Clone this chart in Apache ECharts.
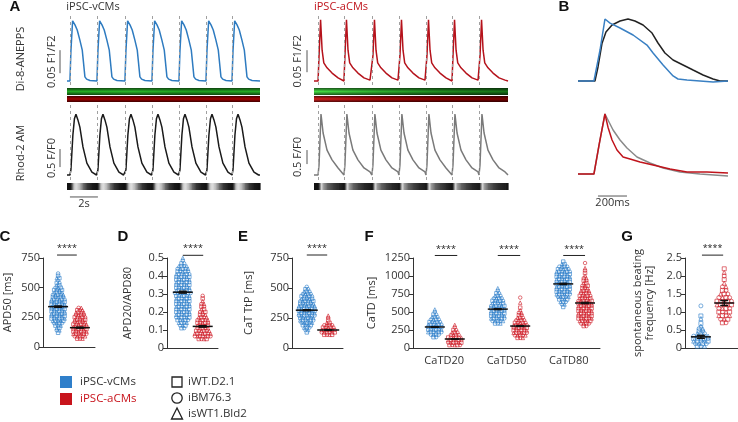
<!DOCTYPE html>
<html>
<head>
<meta charset="utf-8">
<title>iPSC-vCMs vs iPSC-aCMs</title>
<script src="https://cdn.jsdelivr.net/npm/echarts@6/dist/echarts.min.js"></script>
<style>
  html, body { margin: 0; padding: 0; background: #fff; }
  #chart { width: 738px; height: 422px; }
</style>
</head>
<body>
<div id="chart"></div>
<script>
const BLUE = '#2f7fca';
const RED = '#d0202a';
const FONT = 'Open Sans';
const AXC = '#333';

// ---- panel A: beat onsets [s] and one beat waveform [dt s, value] ----
const vOnsets = [0.21, 2.14, 4.14, 6.07, 8.0, 9.93, 11.79];
const aOnsets = [0.29, 2.14, 4.14, 6.07, 8.0, 9.86, 11.79];
const vApBeat = [[0, 0], [0.07, 0.065], [0.19, 0.131], [0.36, 0.122], [0.52, 0.111], [0.71, 0.089], [0.88, 0.067], [0.95, 0.046], [1.07, 0.009], [1.19, 0.004], [1.43, 0.001]];
const vCaBeat = [[0, 0], [0.07, 0.14], [0.21, 1.11], [0.32, 1.56], [0.43, 1.69], [0.57, 1.53], [0.71, 1.33], [0.93, 0.78], [1.21, 0.33], [1.57, 0.08], [1.9, 0]];
const aApBeat = [[0, 0], [0.07, 0.057], [0.18, 0.139], [0.29, 0.07], [0.41, 0.041], [0.64, 0.03], [1.0, 0.018], [1.43, 0.007], [1.86, 0.002]];
const aCaBeat = [[0, 0], [0.07, 0.36], [0.21, 2.18], [0.36, 1.5], [0.64, 0.89], [1.0, 0.54], [1.43, 0.25], [1.86, 0.11]];

// ---- panel B: averaged single beats [ms, normalised] ----
const bApV = [[0, 0], [110, 0], [152, 0.5], [186, 1], [221, 0.935], [290, 0.855], [380, 0.742], [476, 0.58], [518, 0.452], [587, 0.258], [656, 0.081], [690, 0.032], [752, 0.016], [842, 0], [932, -0.016], [1035, 0]];
const bCaV = [[0, 0], [117, 0], [138, 0.226], [166, 0.61], [193, 0.79], [235, 0.903], [290, 0.968], [345, 1], [393, 0.968], [449, 0.903], [511, 0.774], [552, 0.613], [600, 0.452], [656, 0.339], [725, 0.258], [794, 0.177], [863, 0.097], [932, 0.032], [980, 0], [1035, 0]];
const bApA = [[0, 0], [110, 0], [145, 0.48], [186, 1], [207, 0.78], [235, 0.567], [269, 0.4], [311, 0.283], [359, 0.25], [428, 0.2], [518, 0.15], [635, 0.083], [752, 0.033], [890, 0.033], [1035, 0.017]];
const bCaA = [[0, 0], [110, 0], [152, 0.57], [186, 1], [207, 0.9], [242, 0.733], [290, 0.567], [338, 0.433], [407, 0.283], [497, 0.183], [587, 0.1], [704, 0.033], [842, 0], [1035, -0.033]];

// ---- panels C-G: cells per value row (from, step, counts) ----
const apd50V = { from: 120, step: 20, n: [1, 2, 2, 3, 4, 5, 6, 6, 6, 6, 6, 6, 6, 6, 6, 5, 5, 4, 4, 3, 2, 2, 1, 2, 1, 1] };
const apd50A = { from: 70, step: 20, n: [3, 5, 6, 6, 6, 6, 6, 5, 5, 5, 4, 4, 3, 2] };
const ratioV = { from: 0.11, step: 0.015, n: [2, 3, 4, 5, 6, 6, 6, 6, 6, 6, 6, 6, 6, 7, 6, 6, 6, 6, 6, 6, 6, 5, 5, 4, 2, 1, 1] };
const ratioA = { from: 0.05, step: 0.015, n: [4, 7, 7, 6, 5, 5, 5, 5, 4, 3, 3, 2, 2, 2, 1, 1, 1] };
const ttpV = { from: 130, step: 20, n: [1, 2, 3, 4, 5, 6, 6, 7, 7, 7, 7, 7, 6, 6, 5, 5, 4, 3, 2, 1] };
const ttpA = { from: 110, step: 20, n: [4, 6, 6, 5, 4, 2, 1, 1, 1] };
const catd20V = { from: 150, step: 35, n: [2, 4, 6, 6, 6, 6, 5, 4, 3, 2, 1, 1] };
const catd20A = { from: 40, step: 35, n: [5, 6, 6, 6, 4, 3, 2, 1, 1] };
const catd50V = { from: 340, step: 35, n: [3, 5, 6, 6, 6, 6, 6, 6, 5, 5, 4, 3, 2, 1, 1] };
const catd50A = { from: 140, step: 35, n: [3, 5, 6, 6, 6, 6, 5, 4, 3, 2, 2, 1, 1, 0, 1, 0, 1] };
const catd80V = { from: 570, step: 35, n: [1, 2, 3, 4, 5, 6, 6, 6, 6, 6, 6, 6, 6, 6, 6, 5, 4, 2, 1] };
const catd80A = { from: 305, step: 35, n: [2, 4, 5, 6, 6, 6, 6, 6, 6, 6, 6, 5, 5, 4, 4, 3, 3, 2, 2, 2, 1, 1, 1, 1, 0, 1] };
const freqV = { from: 0.05, step: 0.07, n: [3, 4, 5, 5, 5, 3, 2, 2, 1, 1, 0, 1, 1, 0, 0, 0, 1] };
const freqA = { from: 0.7, step: 0.1, n: [2, 3, 4, 4, 4, 5, 5, 4, 3, 2, 2, 1, 1, 1, 1, 1] };

// mean, sem  [x, mean, sem]
const apd50Mean = [[0.29, 340, 5], [0.71, 163, 4]];
const ratioMean = [[0.31, 0.31, 0.005], [0.70, 0.12, 0.004]];
const ttpMean = [[0.29, 315, 4], [0.71, 150, 3]];
const catdMean = [[0.35, 292, 4], [0.67, 125, 3], [1.36, 540, 6], [1.72, 305, 5], [2.41, 890, 8], [2.76, 625, 8]];
const freqMean = [[0.30, 0.31, 0.04], [0.74, 1.25, 0.07]];

const catdCats = ['CaTD20', 'CaTD50', 'CaTD80'];
const cellTypes = ['iPSC-vCMs', 'iPSC-aCMs'];
const cellLines = ['iWT.D2.1', 'iBM76.3', 'isWT1.Bld2'];

// ---- helpers ----
function buildTrace(onsets, beat, tEnd) {
  const pts = [[0, 0]];
  onsets.forEach((t0, i) => {
    const next = i + 1 < onsets.length ? onsets[i + 1] : tEnd;
    beat.forEach(([dt, v]) => { if (t0 + dt < next) pts.push([+(t0 + dt).toFixed(3), v]); });
  });
  pts.push([tEnd, 0]);
  return pts;
}

const SYMS = ['rect', 'circle', 'triangle'];
function swarm(g, cx, pitch) {
  const out = [];
  g.n.forEach((n, k) => {
    for (let j = 0; j < n; j++) {
      out.push({ value: [cx + (j - (n - 1) / 2) * pitch, g.from + k * g.step], symbol: SYMS[(j + k) % 3] });
    }
  });
  return out;
}

function dots(ax, g, cx, pitch, color, size) {
  return {
    type: 'scatter', name: color === BLUE ? cellTypes[0] : cellTypes[1],
    xAxisIndex: ax, yAxisIndex: ax, data: swarm(g, cx, pitch), symbolSize: size || 3.5, silent: true,
    itemStyle: { color: 'rgba(255,255,255,0)', borderColor: color, borderWidth: 0.8 }, z: 2
  };
}

function meanBars(ax, rows, hw) {
  return {
    type: 'custom', xAxisIndex: ax, yAxisIndex: ax, data: rows, encode: { x: 0, y: 1 }, clip: false, silent: true, z: 5,
    renderItem(p, api) {
      const c = api.coord([api.value(0), api.value(1)]);
      const lo = api.coord([api.value(0), api.value(1) - api.value(2)]);
      const hi = api.coord([api.value(0), api.value(1) + api.value(2)]);
      const s = { stroke: '#111', lineWidth: 1.5 };
      return { type: 'group', children: [
        { type: 'line', shape: { x1: c[0] - hw, y1: c[1], x2: c[0] + hw, y2: c[1] }, style: s },
        { type: 'line', shape: { x1: c[0], y1: lo[1], x2: c[0], y2: hi[1] }, style: s },
        { type: 'line', shape: { x1: c[0] - 4, y1: lo[1], x2: c[0] + 4, y2: lo[1] }, style: s },
        { type: 'line', shape: { x1: c[0] - 4, y1: hi[1], x2: c[0] + 4, y2: hi[1] }, style: s }
      ] };
    }
  };
}

function sigBars(ax, rows) {
  return {
    type: 'custom', xAxisIndex: ax, yAxisIndex: ax, data: rows, encode: { x: [0, 1], y: 2 }, clip: false, silent: true,
    renderItem(p, api) {
      const a = api.coord([api.value(0), api.value(2)]);
      const b = api.coord([api.value(1), api.value(2)]);
      return { type: 'group', children: [
        { type: 'line', shape: { x1: a[0], y1: a[1], x2: b[0], y2: b[1] }, style: { stroke: '#222', lineWidth: 1 } },
        { type: 'text', x: (a[0] + b[0]) / 2, y: a[1] - 2, style: { text: '****', align: 'center', verticalAlign: 'bottom', fontSize: 9, fill: '#222', fontFamily: FONT } }
      ] };
    }
  };
}

function vBar(ax, t, v0, v1, label, dx) {
  return {
    type: 'custom', xAxisIndex: ax, yAxisIndex: ax, data: [[t, v0, v1]], encode: { x: 0, y: [1, 2] }, clip: false, silent: true,
    renderItem(p, api) {
      const a = api.coord([api.value(0), api.value(1)]);
      const b = api.coord([api.value(0), api.value(2)]);
      return { type: 'group', children: [
        { type: 'line', shape: { x1: a[0], y1: a[1], x2: b[0], y2: b[1] }, style: { stroke: '#555', lineWidth: 1 } },
        { type: 'text', x: a[0] - dx, y: (a[1] + b[1]) / 2, rotation: Math.PI / 2,
          style: { text: label, align: 'center', verticalAlign: 'middle', fontSize: 11, fill: '#333', fontFamily: FONT } }
      ] };
    }
  };
}

function hBar(ax, t0, t1, v, label) {
  return {
    type: 'custom', xAxisIndex: ax, yAxisIndex: ax, data: [[t0, t1, v]], encode: { x: [0, 1], y: 2 }, clip: false, silent: true,
    renderItem(p, api) {
      const a = api.coord([api.value(0), api.value(2)]);
      const b = api.coord([api.value(1), api.value(2)]);
      return { type: 'group', children: [
        { type: 'line', shape: { x1: a[0], y1: a[1], x2: b[0], y2: b[1] }, style: { stroke: '#555', lineWidth: 1 } },
        { type: 'text', x: (a[0] + b[0]) / 2, y: a[1] + 1,
          style: { text: label, align: 'center', verticalAlign: 'top', fontSize: 11, fill: '#333', fontFamily: FONT } }
      ] };
    }
  };
}

// line-scan strip under a Ca trace, brightness follows the trace
function strip(ax, pts, peak, yMin) {
  const segs = [];
  for (let i = 0; i + 1 < pts.length; i++) segs.push([pts[i][0], pts[i][1], pts[i + 1][0], pts[i + 1][1]]);
  const g = v => { const k = Math.round(18 + 205 * Math.max(0, Math.min(1, v / peak))); return `rgb(${k},${k},${k})`; };
  return {
    type: 'custom', xAxisIndex: ax, yAxisIndex: ax, data: segs, encode: { x: [0, 2], y: [1, 3] }, clip: false, silent: true,
    renderItem(p, api) {
      const a = api.coord([api.value(0), yMin]);
      const b = api.coord([api.value(2), yMin]);
      return { type: 'rect', shape: { x: a[0], y: a[1] + 3, width: b[0] - a[0] + 0.6, height: 7 },
        style: { fill: new echarts.graphic.LinearGradient(0, 0, 1, 0, [{ offset: 0, color: g(api.value(1)) }, { offset: 1, color: g(api.value(3)) }]) } };
    }
  };
}

// green / red dye line-scan bars under an AP trace
function dyeBars(ax, tEnd, yMin, green, red) {
  const shade = () => new echarts.graphic.LinearGradient(0, 0, 0, 1, [
    { offset: 0, color: 'rgba(0,0,0,0.6)' }, { offset: 0.5, color: 'rgba(0,0,0,0)' }, { offset: 1, color: 'rgba(0,0,0,0.6)' }]);
  const hg = stops => new echarts.graphic.LinearGradient(0, 0, 1, 0, stops.map((c, i) => ({ offset: i / (stops.length - 1), color: c })));
  return {
    type: 'custom', xAxisIndex: ax, yAxisIndex: ax, data: [[0, tEnd]], encode: { x: [0, 1] }, clip: false, silent: true,
    renderItem(p, api) {
      const a = api.coord([api.value(0), yMin]);
      const b = api.coord([api.value(1), yMin]);
      const w = b[0] - a[0];
      return { type: 'group', children: [
        { type: 'rect', shape: { x: a[0], y: a[1] + 3, width: w, height: 7 }, style: { fill: hg(green) } },
        { type: 'rect', shape: { x: a[0], y: a[1] + 3, width: w, height: 7 }, style: { fill: shade() } },
        { type: 'rect', shape: { x: a[0], y: a[1] + 11, width: w, height: 6 }, style: { fill: hg(red) } },
        { type: 'rect', shape: { x: a[0], y: a[1] + 11, width: w, height: 6 }, style: { fill: shade() } }
      ] };
    }
  };
}

function trace(ax, data, color, onsets) {
  const s = {
    type: 'line', xAxisIndex: ax, yAxisIndex: ax, data, showSymbol: false, silent: true,
    lineStyle: { color, width: 1.5 }, itemStyle: { color }, z: 3
  };
  if (onsets) {
    s.markLine = {
      silent: true, symbol: ['none', 'none'], label: { show: false },
      lineStyle: { color: '#a0a0a0', type: [3, 3], width: 1 },
      data: onsets.map(t => ({ xAxis: t }))
    };
  }
  return s;
}

// ---- layout ----
const tEndV = 13.79, tEndA = 13.86;
const apY = { v: [-0.0087, 0.1435], a: [-0.0091, 0.150] };
const caY = { v: [-0.139, 1.944], a: [-0.179, 2.5] };

const grids = [
  { left: 67, top: 15, width: 193, height: 70 },   // 0 vCM AP
  { left: 67, top: 105, width: 193, height: 75 },  // 1 vCM CaT
  { left: 314, top: 15, width: 194, height: 70 },  // 2 aCM AP
  { left: 314, top: 105, width: 194, height: 75 }, // 3 aCM CaT
  { left: 578, top: 15, width: 151, height: 70 },  // 4 B top
  { left: 578, top: 105, width: 151, height: 75 }, // 5 B bottom
  { left: 43, top: 258, width: 52, height: 89 },   // 6 C
  { left: 167, top: 258, width: 51, height: 90 },  // 7 D
  { left: 292, top: 258, width: 51, height: 90 },  // 8 E
  { left: 413, top: 258, width: 187, height: 90 }, // 9 F
  { left: 685, top: 258, width: 53, height: 90 }   // 10 G
].map(g => Object.assign({ outerBoundsMode: 'none', containLabel: false }, g));

const hidden = (i, min, max) => ({ type: 'value', gridIndex: i, show: false, min, max });
const xAxes = [
  hidden(0, 0, tEndV), hidden(1, 0, tEndV), hidden(2, 0, tEndA), hidden(3, 0, tEndA),
  hidden(4, 0, 1042), hidden(5, 0, 1042)
];
const plainX = i => ({
  type: 'value', gridIndex: i, min: 0, max: 1, position: 'bottom',
  axisLine: { show: true, lineStyle: { color: AXC, width: 1 } },
  axisTick: { show: false }, axisLabel: { show: false }, splitLine: { show: false }
});
xAxes.push(plainX(6), plainX(7), plainX(8),
  { type: 'value', gridIndex: 9, min: 0, max: 3, show: false, position: 'bottom' },
  plainX(10),
  { type: 'category', gridIndex: 9, data: catdCats, boundaryGap: true, position: 'bottom',
    axisLine: { show: true, lineStyle: { color: AXC, width: 1 } }, axisTick: { show: false },
    axisLabel: { fontSize: 11, color: '#333', margin: 7, fontFamily: FONT }, splitLine: { show: false } });

const plainY = (i, max, interval, name, gap, fmt) => ({
  type: 'value', gridIndex: i, min: 0, max, interval,
  name, nameLocation: 'middle', nameGap: gap, nameMoveOverlap: false,
  nameTextStyle: { fontSize: 11, color: '#333', fontFamily: FONT, lineHeight: 12 },
  axisLine: { show: true, lineStyle: { color: AXC, width: 1 } },
  axisTick: { show: true, length: 4, lineStyle: { color: AXC } },
  axisLabel: { fontSize: 11, color: '#333', margin: 3, fontFamily: FONT, formatter: fmt || (v => String(v)) },
  splitLine: { show: false }
});
const yAxes = [
  hidden(0, apY.v[0], apY.v[1]), hidden(1, caY.v[0], caY.v[1]),
  hidden(2, apY.a[0], apY.a[1]), hidden(3, caY.a[0], caY.a[1]),
  hidden(4, -0.065, 1.065), hidden(5, -0.1, 1.15),
  plainY(6, 750, 250, 'APD50 [ms]', 29),
  plainY(7, 0.5, 0.1, 'APD20/APD80', 33),
  plainY(8, 750, 250, 'CaT TtP [ms]', 37),
  plainY(9, 1250, 250, 'CaTD [ms]', 35),
  plainY(10, 2.5, 0.5, 'spontaneous beating\nfrequency [Hz]', 29, v => (v === 0 ? '0' : v.toFixed(1)))
];

const vAp = buildTrace(vOnsets, vApBeat, tEndV);
const vCa = buildTrace(vOnsets, vCaBeat, tEndV);
const aAp = buildTrace(aOnsets, aApBeat, tEndA);
const aCa = buildTrace(aOnsets, aCaBeat, tEndA);

const series = [
  dyeBars(0, tEndV, apY.v[0], ['#22a822', '#2ab42a', '#1f9e1f', '#26aa26'], ['#a00000', '#980000', '#a00000']),
  dyeBars(2, tEndA, apY.a[0], ['#46dc46', '#2fae2f', '#1f8a1f', '#187218'], ['#d42020', '#a80808', '#8a0000', '#780000']),
  strip(1, vCa, 1.69, caY.v[0]),
  strip(3, aCa, 2.18, caY.a[0]),
  trace(0, vAp, '#2e7bc0', vOnsets),
  trace(1, vCa, '#1a1a1a', vOnsets),
  trace(2, aAp, '#b5121b', aOnsets),
  trace(3, aCa, '#7a7a7a', aOnsets),
  vBar(0, -0.5, 0.017, 0.067, '0.05 F1/F2', 8),
  vBar(1, -0.5, 0.22, 0.72, '0.5 F/F0', 8),
  vBar(2, -0.5, 0.02, 0.07, '0.05 F1/F2', 9),
  vBar(3, -0.5, 0.39, 0.89, '0.5 F/F0', 9),
  hBar(1, 0.21, 2.21, -0.61, '2s'),
  trace(4, bCaV, '#222222'),
  trace(4, bApV, '#3a80c3'),
  trace(5, bCaA, '#8a8a8a'),
  trace(5, bApA, '#c0141c'),
  hBar(5, 138, 338, -0.367, '200ms'),

  dots(6, apd50V, apd50Mean[0][0], 0.05, BLUE), dots(6, apd50A, apd50Mean[1][0], 0.05, RED),
  meanBars(6, apd50Mean, 10), sigBars(6, [[0.27, 0.65, 775]]),
  dots(7, ratioV, ratioMean[0][0], 0.051, BLUE), dots(7, ratioA, ratioMean[1][0], 0.051, RED),
  meanBars(7, ratioMean, 10), sigBars(7, [[0.31, 0.71, 0.515]]),
  dots(8, ttpV, ttpMean[0][0], 0.051, BLUE), dots(8, ttpA, ttpMean[1][0], 0.051, RED),
  meanBars(8, ttpMean, 11), sigBars(8, [[0.29, 0.69, 775]]),
  dots(9, catd20V, catdMean[0][0], 0.042, BLUE), dots(9, catd20A, catdMean[1][0], 0.042, RED),
  dots(9, catd50V, catdMean[2][0], 0.042, BLUE), dots(9, catd50A, catdMean[3][0], 0.042, RED),
  dots(9, catd80V, catdMean[4][0], 0.042, BLUE), dots(9, catd80A, catdMean[5][0], 0.042, RED),
  meanBars(9, catdMean, 10), sigBars(9, [[0.35, 0.71, 1285], [1.36, 1.72, 1285], [2.41, 2.76, 1285]]),
  dots(10, freqV, freqMean[0][0], 0.068, BLUE, 4), dots(10, freqA, freqMean[1][0], 0.068, RED, 4),
  meanBars(10, freqMean, 10), sigBars(10, [[0.32, 0.72, 2.58]])
];

const txt = (x, y, text, o) => ({
  type: 'text', x, y, silent: true,
  style: Object.assign({ text, fontSize: 11, fill: '#333', fontFamily: FONT, align: 'left', verticalAlign: 'middle' }, o || {})
});
const letter = (x, y, t) => txt(x, y, t, { fontSize: 15, fontWeight: 'bold', fill: '#111', fontFamily: 'Liberation Sans', align: 'center' });

const graphic = [
  letter(15, 7, 'A'), letter(564, 7, 'B'), letter(5, 237, 'C'), letter(123, 237, 'D'),
  letter(243, 237, 'E'), letter(369, 237, 'F'), letter(627, 237, 'G'),
  txt(93, 7, cellTypes[0], { align: 'center' }),
  txt(341, 7, cellTypes[1], { align: 'center', fill: '#c0141c' }),
  Object.assign(txt(21, 59, 'Di-8-ANEPPS', { align: 'center' }), { rotation: Math.PI / 2 }),
  Object.assign(txt(21, 153, 'Rhod-2 AM', { align: 'center' }), { rotation: Math.PI / 2 }),
  // legend
  { type: 'rect', shape: { x: 60, y: 376, width: 12, height: 12 }, style: { fill: BLUE } },
  { type: 'rect', shape: { x: 60, y: 393, width: 12, height: 12 }, style: { fill: '#c8141c' } },
  txt(80, 382, cellTypes[0], { fontSize: 11.5 }),
  txt(80, 399, cellTypes[1], { fill: '#c8141c', fontSize: 11.5 }),
  { type: 'rect', shape: { x: 172, y: 377, width: 10, height: 10 }, style: { fill: 'none', stroke: '#222', lineWidth: 1.3 } },
  { type: 'circle', shape: { cx: 177, cy: 398, r: 5.2 }, style: { fill: 'none', stroke: '#222', lineWidth: 1.3 } },
  { type: 'polygon', shape: { points: [[177, 408], [171.5, 419], [182.5, 419]] }, style: { fill: 'none', stroke: '#222', lineWidth: 1.3 } },
  txt(188, 382, cellLines[0], { fontSize: 11.5 }),
  txt(188, 398, cellLines[1], { fontSize: 11.5 }),
  txt(188, 414, cellLines[2], { fontSize: 11.5 })
];

const chart = echarts.init(document.getElementById('chart'), null, { renderer: 'canvas' });
chart.setOption({
  animation: false,
  backgroundColor: '#fff',
  textStyle: { fontFamily: FONT },
  grid: grids,
  xAxis: xAxes,
  yAxis: yAxes,
  series,
  graphic
});
</script>
</body>
</html>
